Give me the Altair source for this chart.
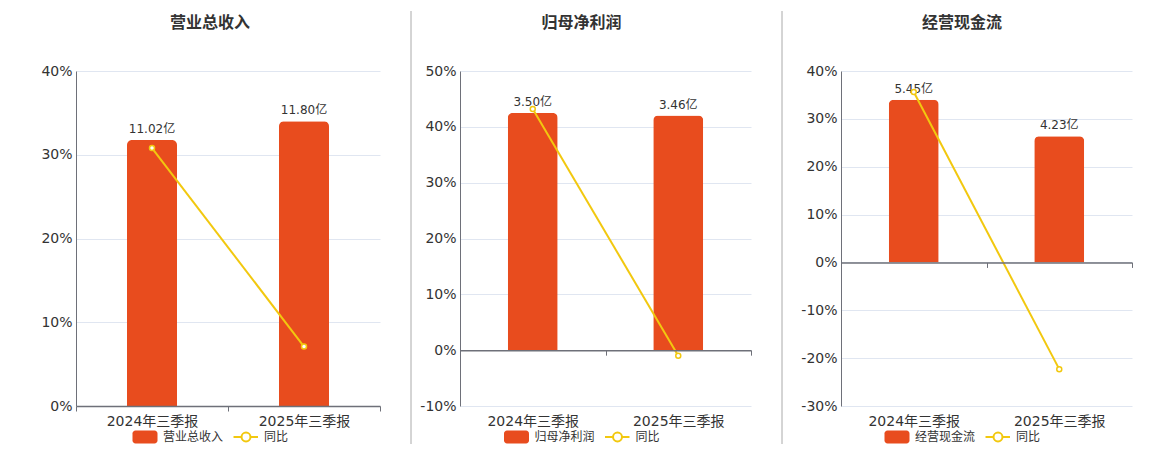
import altair as alt
import pandas as pd

FONT = "DejaVu Sans, Noto Sans CJK SC, sans-serif"

periods = ["2024年三季报", "2025年三季报"]
titles = ["营业总收入", "归母净利润", "经营现金流"]
yoy_name = "同比"

revenue = [11.02, 11.80]
revenue_yoy = [30.8, 7.1]
profit = [3.50, 3.46]
profit_yoy = [43.2, -1.0]
cashflow = [5.45, 4.23]
cashflow_yoy = [35.6, -22.3]

ticks_1 = [0, 10, 20, 30, 40]
ticks_2 = [-10, 0, 10, 20, 30, 40, 50]
ticks_3 = [-30, -20, -10, 0, 10, 20, 30, 40]

BAR = "#e84c1e"
LINE = "#f2c80f"
AXIS = "#6e7079"
GRID = "#e0e6f1"
TEXT = "#333333"
H = 335


def panel(name, vals, yoy, ticks, width, ext, cx, sep_x, show_sep):
    ymin, ymax = ticks[0], ticks[-1]
    hi = max(vals) / 0.85
    lo = hi * ymin / ymax
    zero_from_bottom = H * (0 - ymin) / (ymax - ymin)
    df = pd.DataFrame({
        "period": periods,
        "value": vals,
        "yoy": yoy,
        "label": [f"{v:.2f}亿" for v in vals],
    })
    xenc = alt.X(
        "period:N", sort=periods,
        scale=alt.Scale(paddingInner=0, paddingOuter=0),
        axis=alt.Axis(
            title=None, labelAngle=0, labelFontSize=14, labelColor=TEXT, labelFont=FONT,
            domainColor=AXIS, domainWidth=1.5, tickColor=AXIS, tickSize=5, tickWidth=1,
            tickBand="extent", offset=-zero_from_bottom, grid=False,
            labelPadding=zero_from_bottom + 3.5, zindex=1,
        ),
    )
    bar_scale = alt.Scale(domain=[lo, hi], nice=False, zero=False)
    yoy_scale = alt.Scale(domain=[ymin, ymax], nice=False, zero=False)
    base = alt.Chart(df)
    bars = base.mark_bar(
        size=50, color=BAR, cornerRadiusTopLeft=5, cornerRadiusTopRight=5
    ).encode(x=xenc, y=alt.Y("value:Q", scale=bar_scale, axis=None))
    labels = base.mark_text(
        fontSize=12, color=TEXT, baseline="bottom", dy=-4, font=FONT
    ).encode(x=xenc, y=alt.Y("value:Q", scale=bar_scale, axis=None), text="label:N")
    line = base.mark_line(color=LINE, strokeWidth=2).encode(
        x=xenc,
        y=alt.Y(
            "yoy:Q", scale=yoy_scale,
            axis=alt.Axis(
                orient="left", title=None, values=ticks, labelExpr="datum.value + '%'",
                grid=True, gridColor=GRID, gridWidth=1, ticks=False,
                domainColor=AXIS, domainWidth=1, labelPadding=4,
                labelFontSize=14, labelColor=TEXT, labelFont=FONT,
                minExtent=ext, maxExtent=ext,
            ),
        ),
    )
    pts = base.mark_point(
        shape="circle", fill="white", fillOpacity=1, stroke=LINE,
        strokeWidth=1.5, size=25, opacity=1
    ).encode(x=xenc, y=alt.Y("yoy:Q", scale=yoy_scale, axis=None))

    one = pd.DataFrame({"k": [0]})
    deco = alt.Chart(one)
    sep = deco.mark_rule(color="#aaaaaa", strokeWidth=1, opacity=1 if show_sep else 0).encode(
        x=alt.value(sep_x), y=alt.value(-60), y2=alt.value(373)
    )
    title_t = deco.mark_text(
        text=name, fontSize=16, fontWeight="bold", color=TEXT, font=FONT,
        align="center", baseline="middle"
    ).encode(x=alt.value(cx), y=alt.value(-48))
    leg_rect = deco.mark_rect(color=BAR, cornerRadius=3).encode(
        x=alt.value(cx - 77.5), x2=alt.value(cx - 52.5),
        y=alt.value(359.5), y2=alt.value(372.5)
    )
    leg_t1 = deco.mark_text(
        text=name, align="left", baseline="middle", fontSize=12, color=TEXT, font=FONT
    ).encode(x=alt.value(cx - 47), y=alt.value(366))
    leg_line = deco.mark_rule(color=LINE, strokeWidth=2).encode(
        x=alt.value(cx + 23.5), x2=alt.value(cx + 48), y=alt.value(366)
    )
    leg_pt = deco.mark_point(
        shape="circle", fill="white", fillOpacity=1, stroke=LINE,
        strokeWidth=2, size=80, opacity=1
    ).encode(x=alt.value(cx + 36), y=alt.value(366))
    leg_t2 = deco.mark_text(
        text=yoy_name, align="left", baseline="middle", fontSize=12, color=TEXT, font=FONT
    ).encode(x=alt.value(cx + 54), y=alt.value(366))

    return alt.layer(
        bars, labels, line, pts, sep, title_t, leg_rect, leg_t1, leg_line, leg_pt, leg_t2
    ).resolve_scale(y="independent").properties(width=width, height=H)


p1 = panel(titles[0], revenue, revenue_yoy, ticks_1, 304, 68, 134, -49, False)
p2 = panel(titles[1], profit, profit_yoy, ticks_2, 291, 69, 121.5, -49, True)
p3 = panel(titles[2], cashflow, cashflow_yoy, ticks_3, 291, 79, 121, -59, True)

chart = alt.hconcat(p1, p2, p3, spacing=10).properties(
    padding={"left": 0, "top": 2, "right": 0, "bottom": 0},
    background="white",
).configure(font=FONT).configure_view(strokeWidth=0, stroke=None)

chart.save("out.html", embed_options={"renderer": "svg", "actions": False})
